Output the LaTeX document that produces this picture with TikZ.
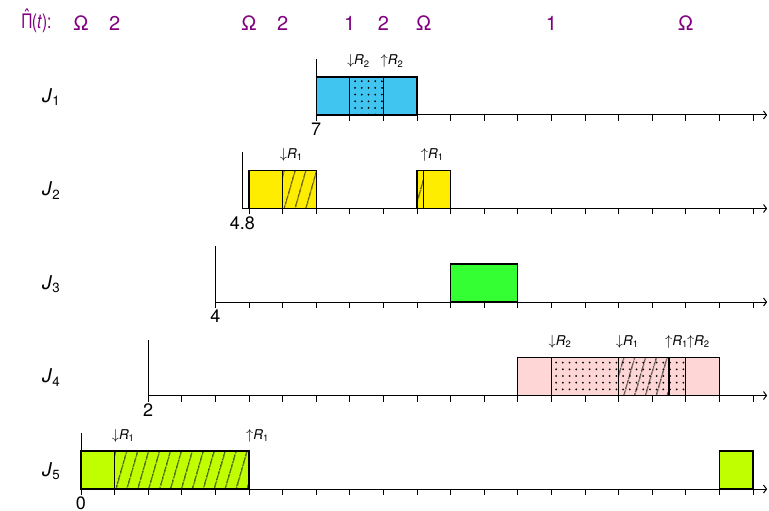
\documentclass[tikz,border=0pt]{standalone}
\usepackage{fontspec}
\setmainfont{TeX Gyre Heros}
\usetikzlibrary{patterns.meta,arrows.meta}
\definecolor{jone}{RGB}{64,196,240}
\definecolor{jtwo}{RGB}{255,237,0}
\definecolor{jthree}{RGB}{51,255,51}
\definecolor{jfour}{RGB}{255,214,214}
\definecolor{jfive}{RGB}{191,255,0}
\definecolor{ceilcol}{RGB}{128,0,128}
\newcommand{\dn}[1]{$\downarrow$\textit{R}\textsubscript{#1}}
\newcommand{\up}[1]{$\uparrow$\textit{R}\textsubscript{#1}}
\newcommand{\hatpi}{\ooalign{Π\cr\hidewidth\raisebox{0.22em}{ˆ}\hidewidth\cr}}
\tikzset{
  axisline/.style={line width=1pt,-{Straight Barb[length=3pt,width=8pt]}},
  tickmark/.style={line width=1pt},
  jobbox/.style={draw=black,line width=1.3pt},
  hatchpat/.style={pattern={Lines[angle=74,distance=10.5pt,line width=1.05pt]}},
  dotpat/.style={pattern={Dots[radius=1pt,distance=6.7pt]}},
  reslabel/.style={font=\fontsize{13.5}{16}\selectfont,inner sep=0pt,anchor=base west,xshift=-3pt},
  ceillabel/.style={text=ceilcol,font=\fontsize{20}{22}\selectfont,inner sep=0pt},
  joblabel/.style={font=\fontsize{19}{21}\selectfont,inner sep=0pt,anchor=west},
  rellabel/.style={font=\fontsize{18}{20}\selectfont,anchor=north,inner sep=0pt}
}
\begin{document}
\begin{tikzpicture}[x=33.6pt,y=1pt]
\useasboundingbox (-2.4107,0) rectangle (20.476,-510);
% axes
\foreach \yy/\r/\t/\lab/\n in {115/7/7/7/1, 208.5/4.8/5/4.8/2, 302/4/4/4/3, 395.5/2/2/2/4, 489/0/0/0/5}{
  \draw[line width=1pt] (\r,-\yy) -- (\r,-\yy+56);
  \draw[axisline] (\r,-\yy) -- (20.42,-\yy);
  \foreach \k in {\t,...,20} \draw[tickmark] (\k,-\yy) -- (\k,-\yy-6);
  \node[rellabel] (rel\n) at (\r,-\yy-8) {\lab};
  \node[joblabel] (job\n) at (-1.16,-\yy+18) {\textit{J}\textsubscript{\n}};
}
% J1
\fill[jone] (7,-115) rectangle (10,-77);
\pattern[dotpat] (8,-115) rectangle (9,-77);
\draw[jobbox] (7,-115) rectangle (10,-77);
\draw[jobbox] (8,-115) -- (8,-77) (9,-115) -- (9,-77);
\node[reslabel] (l1a) at (8,-65) {\dn{2}};
\node[reslabel] (l1b) at (9,-65) {\up{2}};
% J2
\fill[jtwo] (5,-208.5) rectangle (7,-170.5);
\pattern[hatchpat] (6,-208.5) rectangle (7,-170.5);
\draw[jobbox] (5,-208.5) rectangle (7,-170.5);
\draw[jobbox] (6,-208.5) -- (6,-170.5);
\fill[jtwo] (10,-208.5) rectangle (11,-170.5);
\pattern[hatchpat] (10,-208.5) rectangle (10.2,-170.5);
\draw[jobbox] (10,-208.5) rectangle (11,-170.5);
\draw[jobbox] (10.2,-208.5) -- (10.2,-170.5);
\node[reslabel] (l2a) at (6,-158.5) {\dn{1}};
\node[reslabel] (l2b) at (10.2,-158.5) {\up{1}};
% J3
\fill[jthree] (11,-302) rectangle (13,-264);
\draw[jobbox] (11,-302) rectangle (13,-264);
% J4
\fill[jfour] (13,-395.5) rectangle (19,-357.5);
\pattern[dotpat] (14,-395.5) rectangle (18,-357.5);
\pattern[hatchpat] (16,-395.5) rectangle (17.5,-357.5);
\draw[jobbox] (13,-395.5) rectangle (19,-357.5);
\draw[jobbox] (14,-395.5) -- (14,-357.5) (16,-395.5) -- (16,-357.5)
  (17.5,-395.5) -- (17.5,-357.5) (18,-395.5) -- (18,-357.5);
\node[reslabel] (l4a) at (14,-345.5) {\dn{2}};
\node[reslabel] (l4b) at (16,-345.5) {\dn{1}};
\node[reslabel,xshift=-1pt] (l4c) at (17.5,-345.5) {\up{1}};
\node[reslabel,xshift=4pt] (l4d) at (18,-345.5) {\up{2}};
% J5
\fill[jfive] (0,-489) rectangle (5,-451);
\pattern[hatchpat] (1,-489) rectangle (5,-451);
\draw[jobbox] (0,-489) rectangle (5,-451);
\draw[jobbox] (1,-489) -- (1,-451);
\fill[jfive] (19,-489) rectangle (20,-451);
\draw[jobbox] (19,-489) rectangle (20,-451);
\node[reslabel] (l5a) at (1,-439) {\dn{1}};
\node[reslabel] (l5b) at (5,-439) {\up{1}};
% ceiling row
\node[ceillabel,anchor=west] (ceilhead) at (-1.756,-23) {\scalebox{0.78}[1]{\hatpi(\textit{t}):}};
\foreach \tt/\v/\m in {0/Ω/a, 1/2/b, 5/Ω/c, 6/2/d, 8/1/e, 9/2/f, 10.2/Ω/g, 14/1/h, 18/Ω/i}
  \node[ceillabel] (c\m) at (\tt,-23) {\v};
\end{tikzpicture}
\end{document}
